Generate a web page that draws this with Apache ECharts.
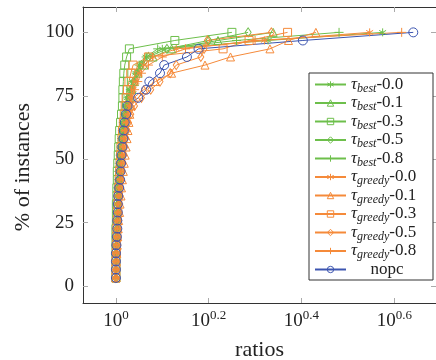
<!DOCTYPE html>
<html><head><meta charset="utf-8">
<script src="https://cdn.jsdelivr.net/npm/echarts@6/dist/echarts.min.js"></script>
<style>html,body{margin:0;padding:0;background:#fff}#c{width:436px;height:360px}</style>
</head><body><div id="c"></div>
<script>
// y values: % of instances
const percent = [3.2,6.5,9.7,12.9,16.1,19.4,22.6,25.8,29.0,32.3,35.5,38.7,41.9,45.2,48.4,51.6,54.8,58.1,61.3,64.5,67.7,71.0,74.2,77.4,80.6,83.9,87.1,90.3,93.5,96.8,100];
// x values: log10(ratio)
const best00 = [0,0,0,0,0,0.001,0.001,0.002,0.002,0.003,0.003,0.004,0.005,0.006,0.007,0.008,0.009,0.011,0.013,0.015,0.018,0.021,0.025,0.030,0.036,0.043,0.052,0.065,0.100,0.328,0.575];
const best01 = [0,0,0,0,0.001,0.001,0.002,0.002,0.003,0.003,0.004,0.005,0.006,0.007,0.008,0.010,0.012,0.014,0.016,0.019,0.022,0.026,0.030,0.035,0.040,0.048,0.060,0.080,0.120,0.220,0.339];
const best03 = [0,0,0,0,0,0,0,0.001,0.001,0.001,0.002,0.002,0.003,0.003,0.004,0.005,0.006,0.007,0.008,0.010,0.012,0.014,0.015,0.015,0.016,0.017,0.019,0.023,0.029,0.127,0.250];
const best05 = [0,0,0,0,0.001,0.001,0.002,0.002,0.003,0.004,0.004,0.005,0.006,0.007,0.008,0.009,0.011,0.013,0.015,0.017,0.020,0.023,0.027,0.032,0.038,0.045,0.055,0.070,0.110,0.200,0.285];
const best08 = [0,0,0,0,0,0.001,0.001,0.002,0.002,0.003,0.004,0.004,0.005,0.006,0.007,0.009,0.010,0.012,0.014,0.016,0.019,0.022,0.026,0.031,0.037,0.044,0.050,0.065,0.090,0.260,0.481];
const greedy00 = [0,0,0,0.001,0.001,0.002,0.003,0.003,0.004,0.005,0.006,0.007,0.008,0.009,0.011,0.012,0.014,0.016,0.018,0.021,0.024,0.028,0.032,0.037,0.043,0.050,0.060,0.080,0.130,0.320,0.547];
const greedy01 = [0,0,0.001,0.002,0.003,0.004,0.005,0.006,0.008,0.009,0.011,0.012,0.014,0.016,0.018,0.020,0.022,0.024,0.026,0.028,0.030,0.033,0.038,0.060,0.085,0.120,0.192,0.247,0.332,0.372,0.431];
const greedy03 = [0,0,0,0.001,0.001,0.002,0.002,0.003,0.004,0.004,0.005,0.006,0.007,0.008,0.009,0.010,0.011,0.013,0.014,0.016,0.018,0.020,0.022,0.025,0.028,0.032,0.037,0.070,0.231,0.287,0.370];
const greedy05 = [0,0,0.001,0.001,0.002,0.003,0.004,0.005,0.006,0.007,0.008,0.010,0.011,0.013,0.015,0.017,0.019,0.021,0.024,0.027,0.032,0.040,0.055,0.075,0.095,0.117,0.130,0.183,0.190,0.197,0.335];
const greedy08 = [0,0,0,0.001,0.002,0.002,0.003,0.004,0.005,0.006,0.007,0.008,0.009,0.011,0.012,0.014,0.016,0.018,0.020,0.023,0.026,0.030,0.034,0.040,0.047,0.055,0.070,0.100,0.150,0.300,0.616];
const nopc = [0,0,0,0,0.001,0.002,0.003,0.003,0.004,0.004,0.005,0.007,0.009,0.010,0.011,0.012,0.014,0.016,0.017,0.019,0.022,0.025,0.048,0.065,0.072,0.095,0.104,0.153,0.178,0.403,0.641];
const seriesNames = ['τbest-0.0','τbest-0.1','τbest-0.3','τbest-0.5','τbest-0.8','τgreedy-0.0','τgreedy-0.1','τgreedy-0.3','τgreedy-0.5','τgreedy-0.8','nopc'];
const xTickExponents = [0, 0.2, 0.4, 0.6];
const yTicks = [0, 25, 50, 75, 100];

const GREEN = '#6dbf4b', ORANGE = '#f58a3a', BLUE = '#3c55b0';
const ASTER = 'path://M0,-10L0,10M-8.66,-5L8.66,5M-8.66,5L8.66,-5';
const PLUS = 'path://M0,-10L0,10M-10,0L10,0';
const seriesValues = [best00,best01,best03,best05,best08,greedy00,greedy01,greedy03,greedy05,greedy08,nopc];
const colors = [GREEN,GREEN,GREEN,GREEN,GREEN,ORANGE,ORANGE,ORANGE,ORANGE,ORANGE,BLUE];
const symbols = [ASTER,'triangle','rect','diamond',PLUS,ASTER,'triangle','rect','diamond',PLUS,'circle'];
const sizes = [8,8,8,[6,9],9,8,8,8,[6,9],9,9];
const FONT = 'Liberation Serif';

const series = seriesValues.map((vals, i) => ({
  type: 'line',
  name: seriesNames[i],
  data: vals.map((x, j) => [x, percent[j]]),
  symbol: symbols[i],
  symbolSize: sizes[i],
  symbolKeepAspect: true,
  showSymbol: true,
  lineStyle: { color: colors[i], width: 1 },
  itemStyle: { color: 'rgba(0,0,0,0)', borderColor: colors[i], borderWidth: 1 },
  emphasis: { disabled: true },
  animation: false
}));

const chart = echarts.init(document.getElementById('c'), null, { renderer: 'canvas' });
const tickStyle = { show: true, inside: true, length: 5, lineStyle: { color: '#aaa', width: 1 } };
chart.setOption({
  animation: false,
  grid: { left: 83, right: 0, top: 7, bottom: 57, containLabel: false, outerBoundsMode: 'none' },
  xAxis: [{
    type: 'value', min: -0.071, max: 0.69,
    name: 'ratios', nameLocation: 'middle', nameGap: 36,
    nameTextStyle: { fontFamily: FONT, fontSize: 22, color: '#222' },
    axisLine: { show: true, onZero: false, lineStyle: { color: '#333', width: 1 } },
    axisTick: Object.assign({ customValues: xTickExponents }, tickStyle),
    splitLine: { show: false },
    axisLabel: {
      customValues: xTickExponents, margin: 6,
      formatter: v => '{b|10}{s|' + (+v.toFixed(1)) + '}',
      rich: {
        b: { fontFamily: FONT, fontSize: 19, lineHeight: 24, color: '#222' },
        s: { fontFamily: FONT, fontSize: 13, lineHeight: 12, verticalAlign: 'top', color: '#222' }
      }
    }
  }, {
    type: 'value', position: 'top', min: -0.071, max: 0.69,
    axisLine: { show: true, onZero: false, lineStyle: { color: '#333', width: 1 } },
    axisTick: Object.assign({ customValues: xTickExponents }, tickStyle),
    axisLabel: { show: false }, splitLine: { show: false }
  }],
  yAxis: [{
    type: 'value', min: -6.7, max: 110,
    name: '% of instances', nameLocation: 'middle', nameGap: 38,
    nameTextStyle: { fontFamily: FONT, fontSize: 22, color: '#222', padding: [0, 24, 0, 0] },
    axisLine: { show: true, onZero: false, lineStyle: { color: '#333', width: 1 } },
    axisTick: Object.assign({ customValues: yTicks }, tickStyle),
    splitLine: { show: false },
    axisLabel: { customValues: yTicks, margin: 9, fontFamily: FONT, fontSize: 19, color: '#222' }
  }, {
    type: 'value', position: 'right', min: -6.7, max: 110,
    axisLine: { show: true, onZero: false, lineStyle: { color: '#333', width: 1 } },
    axisTick: Object.assign({ customValues: yTicks }, tickStyle),
    axisLabel: { show: false }, splitLine: { show: false }
  }],
  legend: {
    orient: 'vertical', left: 309, top: 73,
    itemWidth: 31, itemHeight: 8, itemGap: 0,
    padding: [3, 10, 2, 5],
    borderColor: '#333', borderWidth: 1, backgroundColor: '#fff',
    itemStyle: { borderWidth: 1 },
    formatter: name => {
      const m = name.match(/^τ(best|greedy)(-[\d.]+)$/);
      if (m) return '{t|τ}{s|' + m[1] + '}{n|' + m[2] + '}';
      return '{c|' + name + '}';
    },
    textStyle: {
      rich: {
        t: { fontFamily: FONT, fontStyle: 'italic', fontSize: 17, lineHeight: 20, color: '#222' },
        s: { fontFamily: FONT, fontStyle: 'italic', fontSize: 12, lineHeight: 8, verticalAlign: 'bottom', color: '#222' },
        n: { fontFamily: FONT, fontSize: 17, lineHeight: 20, color: '#222' },
        c: { fontFamily: FONT, fontSize: 17, lineHeight: 20, width: 72, align: 'center', color: '#222' }
      }
    },
    data: seriesNames
  },
  series: series
});
</script></body></html>
